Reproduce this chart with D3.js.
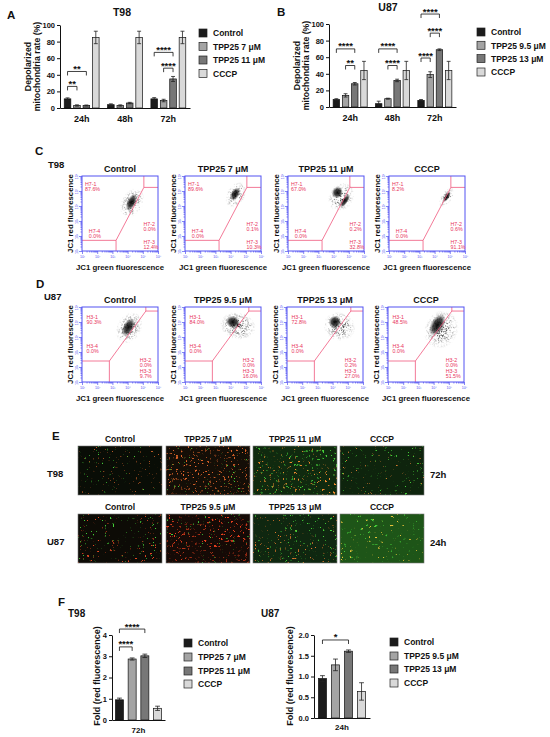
<!DOCTYPE html>
<html>
<head>
<meta charset="utf-8">
<script src="https://cdn.jsdelivr.net/npm/d3@7"></script>
<style>
body { margin: 0; background: #fff; }
svg { display: block; }
</style>
</head>
<body>
<svg id="fig" width="550" height="737"></svg>
<script>
// ---------- data ----------
const timesAB = ['24h', '48h', '72h'];
const groupsT98 = ['Control', 'TPP25 7 μM', 'TPP25 11 μM', 'CCCP'];
const groupsU87 = ['Control', 'TPP25 9.5 μM', 'TPP25 13 μM', 'CCCP'];
const barColors = ['#1b1b1b', '#a4a4a4', '#777777', '#d9d9d9'];
const ticksAB = [0, 20, 40, 60, 80, 100];

// depolarized mitochondria rate (%), one row per time point
const depolT98 = [[11, 3, 3, 85], [4, 3, 6, 85], [11, 9, 35, 85]];
const depolT98Err = [[1.2, 0.8, 0.6, 7.5], [1, 0.8, 0.8, 7.5], [1.5, 1.5, 3, 7.5]];
const depolU87 = [[9, 14, 28, 44], [4, 10, 32, 44], [8, 39, 69, 44]];
const depolU87Err = [[1, 2, 1.5, 11], [3, 0.6, 1.5, 11], [1, 3.5, 1, 11]];
// [time index, group a, group b, bracket height, stars]
const sigA = [[0, 0, 1, 26, '**'], [0, 0, 2, 44, '**'], [2, 0, 2, 67, '****'], [2, 1, 2, 48, '****']];
const sigB = [[0, 0, 2, 70, '****'], [0, 1, 2, 50, '**'], [1, 0, 2, 70, '****'], [1, 1, 2, 50, '****'],
              [2, 0, 2, 112, '****'], [2, 1, 2, 89, '****'], [2, 0, 1, 59, '****']];

// JC-1 flow cytometry gates (percent per quadrant 1..4)
const flowPctT98 = [[87.6, 0.0, 12.4, 0.0], [89.6, 0.1, 10.3, 0.0], [67.0, 0.2, 32.8, 0.0], [8.2, 0.6, 91.1, 0.0]];
const flowPctU87 = [[90.3, 0.0, 9.7, 0.0], [84.0, 0.0, 16.0, 0.0], [72.8, 0.2, 27.0, 0.0], [48.5, 0.0, 51.5, 0.0]];
// gate corners in log10 units: vertical x, horizontal y, diagonal top x, diagonal top y
const gateT98 = [3.24, 1.71, 5.07, 5.24];
const gateU87 = [2.8, 2.4, 5.2, 5.73];
// event clouds: [plot, log x, log y, radius x (decades), radius y, tilt, kind]
const cloudsT98 = [
  [0, 4.3, 4.2, 0.7, 1.05, 28, 'halo'], [0, 4.25, 4.25, 0.3, 0.6, 25, 'core'],
  [1, 4.35, 4.75, 0.6, 0.9, 30, 'halo'], [1, 4.3, 4.8, 0.28, 0.48, 30, 'core'],
  [2, 4.5, 4.6, 0.8, 1.0, 30, 'halo'], [2, 4.25, 4.9, 0.36, 0.4, 30, 'core'],
  [2, 4.75, 4.35, 0.2, 0.52, 35, 'core'],
  [3, 4.8, 4.6, 0.35, 0.75, 35, 'halo'], [3, 4.8, 4.6, 0.16, 0.42, 35, 'core'],
];
const cloudsU87 = [
  [0, 4.1, 4.6, 0.8, 1.1, 30, 'halo'], [0, 4.05, 4.65, 0.36, 0.66, 28, 'core'],
  [1, 4.5, 4.75, 1.2, 0.9, 10, 'halo'], [1, 4.15, 5.0, 0.48, 0.4, 20, 'core'],
  [2, 4.45, 4.7, 1.05, 0.95, 15, 'halo'], [2, 4.15, 5.0, 0.42, 0.42, 20, 'core'],
  [3, 4.5, 4.5, 1.1, 1.3, 25, 'halo'], [3, 4.25, 4.8, 0.45, 0.8, 30, 'core'],
];

// fluorescence micrographs (T98 row then U87 row)
const imgBg = ['#090d06', '#140e07', '#102a0f', '#0e240d', '#0d0b06', '#150a06', '#0f2710', '#1e5518'];
const imgRedCover = [0.06, 0.22, 0.15, 0.02, 0.1, 0.2, 0.12, 0.05];
const imgGreenCover = [0.01, 0.03, 0.14, 0.07, 0.07, 0.05, 0.1, 0.12];
const imgRedColor = ['#b85a26', '#e0652a', '#f08a2e', '#d07a30', '#e04a22', '#e8401e', '#e0782c', '#e6c23a'];
const imgCellFreq = [0.45, 0.42, 0.36, 0.4, 0.4, 0.42, 0.4, 0.32];

// fold change of red fluorescence
const foldT98 = [0.95, 2.87, 3.02, 0.55];
const foldT98Err = [0.08, 0.05, 0.08, 0.1];
const foldU87 = [0.95, 1.28, 1.61, 0.64];
const foldU87Err = [0.07, 0.14, 0.03, 0.21];
const sigFT98 = [[0, 0, 1, 3.44, '****'], [0, 0, 2, 4.28, '****']];
const sigFU87 = [[0, 0, 2, 1.88, '*']];

// ---------- drawing ----------
const FONT = '"Liberation Sans", Arial, Helvetica, sans-serif';
const svg = d3.select('#fig').attr('font-family', FONT);
svg.append('rect').attr('width', 550).attr('height', 737).attr('fill', '#fff');
const defs = svg.append('defs');

function txt(g, s, x, y, size, o = {}) {
  return g.append('text').attr('x', x).attr('y', y).attr('font-size', size)
    .attr('font-weight', o.weight || 'bold').attr('text-anchor', o.anchor || 'start')
    .attr('fill', o.fill || '#111').text(s);
}
function vtxt(g, s, x, y, size) {
  return txt(g, s, 0, 0, size, {anchor: 'middle'}).attr('transform', `translate(${x},${y}) rotate(-90)`);
}
function styleAxis(sel, size) {
  sel.attr('font-family', FONT).attr('font-size', size).attr('font-weight', 'bold');
  sel.select('.domain').attr('stroke', '#111').attr('stroke-width', 1);
  sel.selectAll('.tick line').attr('stroke', '#111').attr('stroke-width', 1);
  sel.selectAll('.tick text').attr('fill', '#111');
}
function legend(g, names, x, ys, size) {
  names.forEach((n, i) => {
    g.append('rect').attr('x', x).attr('y', ys[i] - 4).attr('width', 8).attr('height', 8)
      .attr('fill', barColors[i]).attr('stroke', '#222').attr('stroke-width', 0.7);
    txt(g, n, x + 14, ys[i] + 3.2, size);
  });
}

function barPanel(g, c) {
  const y = d3.scaleLinear().domain([0, c.max]).range([c.bottom, c.top]);
  const x0 = d3.scaleBand().domain(c.cats).range([c.left, c.right]);
  const x1 = d3.scaleBand().domain(d3.range(4)).range([0, x0.bandwidth()])
    .paddingInner(c.pi).paddingOuter(c.po);
  const bw = x1.bandwidth();
  const cols = g.selectAll('g.cat').data(c.vals).join('g').attr('class', 'cat')
    .attr('transform', (d, i) => `translate(${x0(c.cats[i])},0)`);
  const rows = (d, i) => d.map((v, j) => ({v, e: c.errs[i][j], j}));
  cols.selectAll('rect').data(rows).join('rect')
    .attr('x', d => x1(d.j)).attr('y', d => y(d.v)).attr('width', bw)
    .attr('height', d => y(0) - y(d.v)).attr('fill', d => barColors[d.j])
    .attr('stroke', '#111').attr('stroke-width', 0.7);
  // mean ± SD, drawn over the bar
  cols.selectAll('path.err').data(rows).join('path').attr('class', 'err')
    .attr('d', d => {
      const cx = x1(d.j) + bw / 2, yt = y(d.v + d.e), yb = y(Math.max(0, d.v - d.e)), cap = bw * 0.3;
      return `M${cx},${yb}V${yt}M${cx - cap},${yt}H${cx + cap}M${cx - cap},${yb}H${cx + cap}`;
    })
    .attr('stroke', '#222').attr('stroke-width', 0.8).attr('fill', 'none');

  g.append('g').attr('transform', `translate(${c.left},0)`)
    .call(d3.axisLeft(y).tickValues(c.ticks).tickFormat(c.fmt).tickSize(3).tickSizeOuter(0).tickPadding(2))
    .call(styleAxis, c.tickFont);
  g.append('g').attr('transform', `translate(0,${c.bottom})`)
    .call(d3.axisBottom(x0).tickSize(0).tickSizeOuter(0).tickPadding(c.catPad))
    .call(styleAxis, c.catFont);

  c.sig.forEach(([ci, a, b, h, s]) => {
    const xa = x0(c.cats[ci]) + x1(a) + bw / 2, xb = x0(c.cats[ci]) + x1(b) + bw / 2, yy = y(h);
    g.append('path').attr('d', `M${xa},${yy + 4}V${yy}H${xb}V${yy + 4}`)
      .attr('fill', 'none').attr('stroke', '#111').attr('stroke-width', 0.8);
    txt(g, s, (xa + xb) / 2, yy + 0.5, 9.5, {anchor: 'middle'});
  });
}

// ----- A -----
const gA = svg.append('g');
txt(gA, 'A', 7, 19, 11.5);
txt(gA, 'T98', 122, 16, 10.5, {anchor: 'middle'});
barPanel(gA, {left: 60, right: 190, top: 25, bottom: 108, max: 100, ticks: ticksAB, fmt: d3.format('d'),
  cats: timesAB, vals: depolT98, errs: depolT98Err, sig: sigA, pi: 0.3, po: 0.45,
  tickFont: 7.5, catFont: 9, catPad: 7.5});
vtxt(gA, 'Depolarized', 31, 66.5, 8.7);
vtxt(gA, 'mitochondria rate (%)', 39.5, 66.5, 8.7);
legend(gA, groupsT98, 199, [33, 46.5, 60, 73.5], 8.5);

// ----- B -----
const gB = svg.append('g');
txt(gB, 'B', 277, 16, 11.5);
txt(gB, 'U87', 388, 11, 10.5, {anchor: 'middle'});
barPanel(gB, {left: 329, right: 456, top: 24, bottom: 107, max: 100, ticks: ticksAB, fmt: d3.format('d'),
  cats: timesAB, vals: depolU87, errs: depolU87Err, sig: sigB, pi: 0.3, po: 0.45,
  tickFont: 7.5, catFont: 9, catPad: 7.5});
vtxt(gB, 'Depolarized', 300, 65.5, 8.7);
vtxt(gB, 'mitochondria rate (%)', 308.5, 65.5, 8.7);
legend(gB, groupsU87, 477, [32, 45.3, 58.6, 72], 8.5);

// ----- C / D flow plots -----
const coreGrad = defs.append('radialGradient').attr('id', 'coreGrad');
coreGrad.append('stop').attr('offset', 0).attr('stop-color', '#000').attr('stop-opacity', 0.95);
coreGrad.append('stop').attr('offset', 0.55).attr('stop-color', '#111').attr('stop-opacity', 0.75);
coreGrad.append('stop').attr('offset', 1).attr('stop-color', '#333').attr('stop-opacity', 0);
const haloGrad = defs.append('radialGradient').attr('id', 'haloGrad');
haloGrad.append('stop').attr('offset', 0).attr('stop-color', '#000').attr('stop-opacity', 1);
haloGrad.append('stop').attr('offset', 1).attr('stop-color', '#000').attr('stop-opacity', 0);
const speckle = defs.append('filter').attr('id', 'speckle').attr('color-interpolation-filters', 'sRGB')
  .attr('x', '-20%').attr('y', '-20%').attr('width', '140%').attr('height', '140%');
speckle.append('feTurbulence').attr('type', 'fractalNoise').attr('baseFrequency', 1.1)
  .attr('numOctaves', 1).attr('seed', 7).attr('result', 'n');
speckle.append('feColorMatrix').attr('in', 'n').attr('type', 'matrix')
  .attr('values', '0 0 0 0 0  0 0 0 0 0  0 0 0 0 0  14 0 0 0 -7.6').attr('result', 'dots');
speckle.append('feComposite').attr('in', 'dots').attr('in2', 'SourceGraphic').attr('operator', 'in');

const BLUE = '#5252f2', GATE = '#f0587e', GATE_TXT = '#e8345c';
const SUP = ['⁰', '¹', '²', '³', '⁴', '⁵', '⁶'];
const majors = d3.range(1, 7).map(e => 10 ** e);
const minors = d3.range(1, 6).flatMap(e => d3.range(2, 10).map(m => m * 10 ** e));

function flowPlot(g, id, fx, fy, title, pct, prefix, gate, clouds, lbl) {
  const w = 76, h = 75;
  const x = d3.scaleLog().domain([10, 1e6]).range([fx, fx + w]);
  const y = d3.scaleLog().domain([10, 1e6]).range([fy + h, fy]);
  const perDec = w / 5;
  defs.append('clipPath').attr('id', 'clip' + id).append('rect')
    .attr('x', fx).attr('y', fy).attr('width', w).attr('height', h);
  const cg = g.append('g').attr('clip-path', `url(#clip${id})`);
  clouds.forEach(([p, lx, ly, rx, ry, rot, kind]) => {
    const cx = x(10 ** lx), cy = y(10 ** ly);
    const e = cg.append('ellipse').attr('cx', cx).attr('cy', cy)
      .attr('rx', rx * perDec).attr('ry', ry * perDec)
      .attr('transform', `rotate(${rot},${cx},${cy})`);
    if (kind === 'halo') e.attr('fill', 'url(#haloGrad)').attr('filter', 'url(#speckle)');
    else e.attr('fill', 'url(#coreGrad)');
  });
  const X = v => x(10 ** v), Y = v => y(10 ** v);
  g.append('path').attr('fill', 'none').attr('stroke', GATE).attr('stroke-width', 0.8)
    .attr('d', `M${fx},${Y(gate[1])}H${X(gate[0])}V${fy + h}` +
      `M${X(gate[0])},${Y(gate[1])}L${X(gate[2])},${Y(gate[3])}` +
      `M${X(gate[2])},${fy}V${Y(gate[3])}H${fx + w}`);
  g.append('rect').attr('x', fx).attr('y', fy).attr('width', w).attr('height', h)
    .attr('fill', 'none').attr('stroke', BLUE).attr('stroke-width', 1);

  const blueAxis = sel => {
    sel.select('.domain').remove();
    sel.selectAll('.tick line').attr('stroke', BLUE).attr('stroke-width', 0.7);
    sel.selectAll('.tick text').attr('fill', BLUE).attr('font-size', 3.6).attr('font-family', FONT);
  };
  g.append('g').attr('transform', `translate(${fx},0)`)
    .call(d3.axisLeft(y).tickValues(minors).tickSize(1.5).tickFormat('')).call(blueAxis);
  g.append('g').attr('transform', `translate(0,${fy + h})`)
    .call(d3.axisBottom(x).tickValues(minors).tickSize(1.5).tickFormat('')).call(blueAxis);
  const la = g.append('g').attr('transform', `translate(${fx},0)`)
    .call(d3.axisLeft(y).tickValues(majors).tickSize(3).tickFormat(d => '10' + SUP[Math.round(Math.log10(d))]))
    .call(blueAxis);
  la.selectAll('.tick text').attr('x', 0).attr('y', -4).attr('dy', 0)
    .attr('text-anchor', 'middle').attr('transform', 'rotate(-90)');
  g.append('g').attr('transform', `translate(0,${fy + h})`)
    .call(d3.axisBottom(x).tickValues(majors).tickSize(3).tickPadding(1)
      .tickFormat(d => '10' + SUP[Math.round(Math.log10(d))]))
    .call(blueAxis);

  pct.forEach((v, i) => {
    const [fxr, fyr] = lbl[i];
    txt(g, `${prefix}-${i + 1}`, fx + fxr * w, fy + fyr * h, 5.3, {weight: 'normal', fill: GATE_TXT});
    txt(g, v.toFixed(1) + '%', fx + fxr * w, fy + (fyr + 0.068) * h, 5.3, {weight: 'normal', fill: GATE_TXT});
  });

  txt(g, title, fx + w / 2, fy - 4, 9, {anchor: 'middle'});
  txt(g, 'JC1 green fluorescence', fx + w / 2, fy + h + 19, 7.8, {anchor: 'middle'});
  vtxt(g, 'JC1 red fluorescence', fx - 9, fy + h / 2, 7.8);
}

const lblT98 = [[0.04, 0.135], [0.81, 0.67], [0.81, 0.91], [0.09, 0.76]];
const lblU87 = [[0.06, 0.165], [0.76, 0.73], [0.76, 0.885], [0.06, 0.55]];

const gC = svg.append('g');
txt(gC, 'C', 35, 155, 11.5);
txt(gC, 'T98', 48, 168, 9.5);
[82, 185, 288, 389].forEach((fx, i) => flowPlot(gC, 'c' + i, fx, 176, groupsT98[i], flowPctT98[i], 'H7',
  gateT98, cloudsT98.filter(c => c[0] === i), lblT98));

const gD = svg.append('g');
txt(gD, 'D', 36, 288, 11.5);
txt(gD, 'U87', 44, 300, 9.5);
[82, 185, 287, 388].forEach((fx, i) => flowPlot(gD, 'd' + i, fx, 307, groupsU87[i], flowPctU87[i], 'H3',
  gateU87, cloudsU87.filter(c => c[0] === i), lblU87));

// ----- E micrographs -----
const gE = svg.append('g');
txt(gE, 'E', 52, 440, 11.5);
const eLeft = [78, 166, 253, 340], eTop = [446, 514], eW = 84, eH = 49;
const eRows = ['T98', 'U87'], eTimes = ['72h', '24h'], eTitles = [groupsT98, groupsU87];
function channel(f, seed, freq, cover, color, name) {
  const c = d3.rgb(color), t = 0.74 - 0.45 * cover, k = 16;
  f.append('feTurbulence').attr('type', 'fractalNoise').attr('baseFrequency', freq)
    .attr('numOctaves', 2).attr('seed', seed).attr('result', name + 'n');
  f.append('feColorMatrix').attr('in', name + 'n').attr('type', 'matrix')
    .attr('values', `0 0 0 0 ${c.r / 255} 0 0 0 0 ${c.g / 255} 0 0 0 0 ${c.b / 255} ${k} 0 0 0 ${-k * t}`)
    .attr('result', name + 's');
  f.append('feTurbulence').attr('type', 'fractalNoise').attr('baseFrequency', 0.035)
    .attr('numOctaves', 1).attr('seed', seed + 100).attr('result', name + 'lo');
  f.append('feColorMatrix').attr('in', name + 'lo').attr('type', 'matrix')
    .attr('values', '0 0 0 0 0 0 0 0 0 0 0 0 0 0 0 4 0 0 0 -1.3').attr('result', name + 'm');
  f.append('feComposite').attr('in', name + 's').attr('in2', name + 'm').attr('operator', 'in').attr('result', name);
}
imgBg.forEach((bg, i) => {
  const r = Math.floor(i / 4), col = i % 4;
  const f = defs.append('filter').attr('id', 'cells' + i).attr('x', 0).attr('y', 0)
    .attr('width', 1).attr('height', 1).attr('color-interpolation-filters', 'sRGB');
  channel(f, 40 + i * 7, imgCellFreq[i], imgGreenCover[i], '#44cc38', 'gr');
  channel(f, 3 + i * 5, imgCellFreq[i], imgRedCover[i], imgRedColor[i], 'rd');
  const m = f.append('feMerge');
  m.append('feMergeNode').attr('in', 'SourceGraphic');
  m.append('feMergeNode').attr('in', 'gr');
  m.append('feMergeNode').attr('in', 'rd');
  gE.append('rect').attr('x', eLeft[col]).attr('y', eTop[r]).attr('width', eW).attr('height', eH)
    .attr('fill', bg).attr('filter', `url(#cells${i})`);
  gE.append('rect').attr('x', eLeft[col]).attr('y', eTop[r]).attr('width', eW).attr('height', eH)
    .attr('fill', 'none').attr('stroke', '#777').attr('stroke-width', 0.6);
  txt(gE, eTitles[r][col], eLeft[col] + eW / 2, eTop[r] - 4, 8.5, {anchor: 'middle'});
});
eRows.forEach((n, r) => {
  txt(gE, n, 47, eTop[r] + 31, 9.5);
  txt(gE, eTimes[r], 430, eTop[r] + 32, 9.5);
});

// ----- F -----
const gF = svg.append('g');
txt(gF, 'F', 58, 606, 11.5);
txt(gF, 'T98', 68, 617, 10);
txt(gF, 'U87', 261, 617, 10);
barPanel(gF.append('g'), {left: 112, right: 165, top: 635, bottom: 720, max: 4, ticks: [0, 1, 2, 3, 4],
  fmt: d3.format('d'), cats: ['72h'], vals: [foldT98], errs: [foldT98Err], sig: sigFT98,
  pi: 0.37, po: 0.27, tickFont: 7.5, catFont: 8, catPad: 7.3});
vtxt(gF, 'Fold (red fluorescence)', 100, 676, 9);
legend(gF, groupsT98, 184, [643, 657, 671, 684], 8.5);
barPanel(gF.append('g'), {left: 314, right: 370, top: 635, bottom: 718, max: 2, ticks: [0, 0.5, 1, 1.5, 2],
  fmt: d3.format('.1f'), cats: ['24h'], vals: [foldU87], errs: [foldU87Err], sig: sigFU87,
  pi: 0.38, po: 0.34, tickFont: 7.5, catFont: 8, catPad: 6.3});
vtxt(gF, 'Fold (red fluorescence)', 293, 676, 9);
legend(gF, groupsU87, 390, [642, 656, 669, 683], 8.5);
</script>
</body>
</html>
